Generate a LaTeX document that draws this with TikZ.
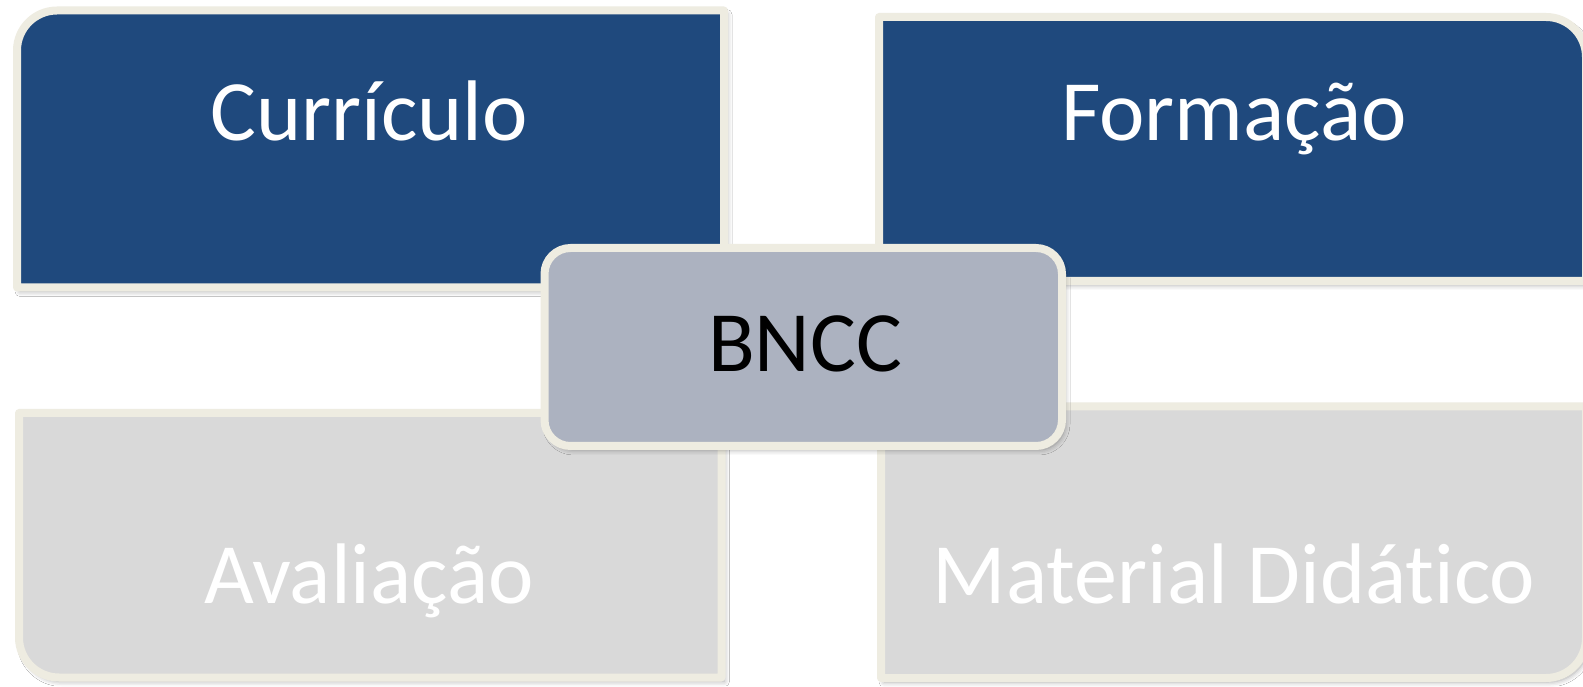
\documentclass[tikz,border=0pt]{standalone}
\usepackage{fontspec}
\setmainfont{Carlito}[Ligatures={NoCommon,NoContextual}]
\usetikzlibrary{shadows.blur}
\definecolor{boxblue}{HTML}{1F497D}
\definecolor{boxgray}{HTML}{D9D9D9}
\definecolor{centergray}{HTML}{ACB2C0}
\definecolor{rim}{HTML}{EEECE1}
\tikzset{
  panel/.style={draw=rim, line width=8pt, line join=round,
    blur shadow={shadow xshift=3pt, shadow yshift=-4pt, shadow blur radius=5pt, shadow opacity=35}},
  bigtext/.style={anchor=base, inner sep=0pt, font=\fontsize{86}{86}\selectfont},
}
\begin{document}
\begin{tikzpicture}[x=1pt,y=1pt]
\useasboundingbox (0,0) rectangle (1583,686);
\fill[white] (0,0) rectangle (1583,686);
\begin{scope}
\clip (0,0) rectangle (1583,686);
% top-left
\draw[panel, fill=boxblue] (724,398.5) -- (17,398.5) -- (17,635.5) arc[start angle=180,end angle=90,radius=40] -- (724,675.5) -- cycle;
% top-right
\draw[panel, fill=boxblue] (879,405) -- (879,669) -- (1546,669) arc[start angle=90,end angle=0,radius=40] -- (1586,405) -- cycle;
% bottom-left
\draw[panel, fill=boxgray] (721.5,273) -- (19,273) -- (19,48.5) arc[start angle=180,end angle=270,radius=40] -- (721.5,8.5) -- cycle;
% bottom-right
\draw[panel, fill=boxgray] (881,279.5) -- (881,8) -- (1546,8) arc[start angle=270,end angle=360,radius=40] -- (1586,279.5) -- cycle;
% center
\draw[panel, fill=centergray, rounded corners=26pt] (544.5,240) rectangle (1062,438);
\end{scope}
\node[bigtext, text=white] (curriculo) at (369,545) {Currículo};
\node[bigtext, text=white] (formacao) at (1234,545) {Formação};
\node[bigtext, text=white] (avaliacao) at (369,83) {Avaliação};
\node[bigtext, text=white] (material) at (1234,83) {Material Didático};
\node[bigtext, text=black] (bncc) at (805,314) {BNCC};
\end{tikzpicture}
\end{document}
